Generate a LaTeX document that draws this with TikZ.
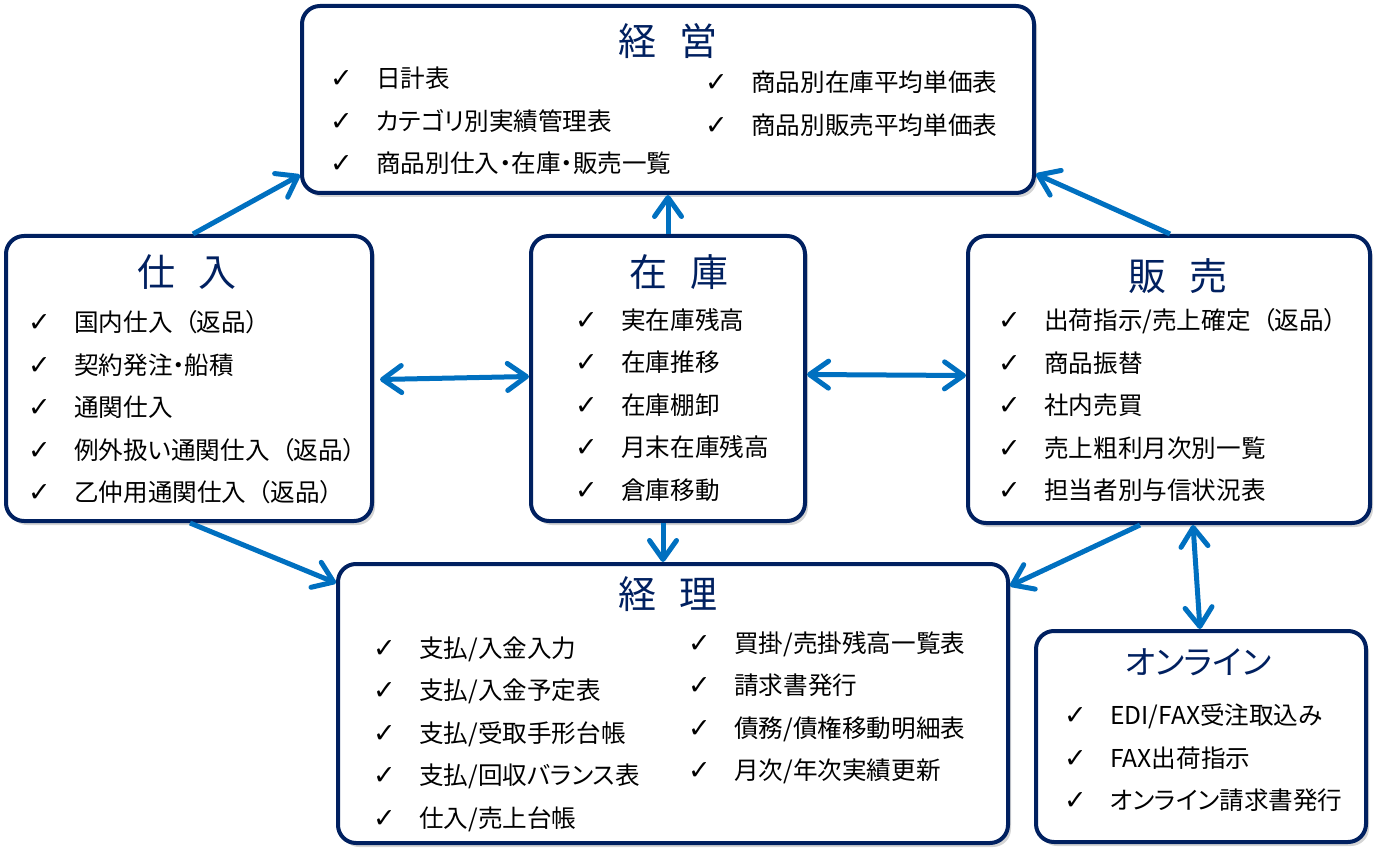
\documentclass[tikz,border=0pt]{standalone}
\usepackage{fontspec}
\setmainfont{Noto Sans CJK JP}[RawFeature=+palt]
\newfontfamily\symfont{DejaVu Sans}
\usetikzlibrary{arrows.meta,shadows,calc}
\definecolor{navy}{HTML}{002060}
\definecolor{arrowblue}{HTML}{0070C0}
\newcommand\ck{\makebox[46pt][l]{\symfont\fontsize{27}{27}\selectfont ✓}}
\newcommand\lp{\hspace{12pt}}
\begin{document}
\begin{tikzpicture}[x=1pt,y=-1pt,
  box/.style={draw=navy, line width=4pt, rounded corners=18pt, fill=white, inner sep=0pt,
    drop shadow={shadow xshift=3pt, shadow yshift=-4pt, opacity=.28, fill=black!60}},
  ttl/.style={inner sep=0pt, text=navy, font=\fontsize{38}{38}\selectfont},
  items/.style={inner sep=0pt, align=left, anchor=west, text=black, font=\fontsize{24.6}{42.5}\selectfont},
  barb/.tip={Straight Barb[round, length=19pt, width=27pt]},
  conn/.style={draw=arrowblue, line width=5pt, -barb},
  dconn/.style={draw=arrowblue, line width=5pt, barb-barb}]
\useasboundingbox (0,0) rectangle (1386,858);

% boxes
\node[box, minimum width=732pt, minimum height=187pt] (keiei) at (668,99.5) {};
\node[box, minimum width=366pt, minimum height=285pt] (shiire) at (189,378.5) {};
\node[box, minimum width=274pt, minimum height=285pt] (zaiko) at (668,378.5) {};
\node[box, minimum width=402pt, minimum height=287pt] (hanbai) at (1169,379.5) {};
\node[box, minimum width=670pt, minimum height=279pt] (keiri) at (673,703.5) {};
\node[box, minimum width=330pt, minimum height=211pt] (online) at (1201,736.5) {};

% titles
\node[ttl] (tkeiei) at (668,41) {経\hspace{24pt}営};
\node[ttl] (tshiire) at (187,272) {仕\hspace{24pt}入};
\node[ttl] (tzaiko) at (679,272) {在\hspace{24pt}庫};
\node[ttl] (thanbai) at (1178,276) {販\hspace{24pt}売};
\node[ttl] (tkeiri) at (668,594) {経\hspace{24pt}理};
\node[ttl, font=\fontsize{33}{33}\selectfont] (tonline) at (1198,662) {オンライン};

% items
\node[items] (ikeieiL) at (330,121) {\ck 日計表\\ \ck カテゴリ別実績管理表\\ \ck 商品別仕入・在庫・販売一覧};
\node[items] (ikeieiR) at (705,103.5) {\ck 商品別在庫平均単価表\\ \ck 商品別販売平均単価表};
\node[items] (ishiire) at (28,407.5) {\ck 国内仕入\lp（返品）\\ \ck 契約発注・船積\\ \ck 通関仕入\\ \ck 例外扱い通関仕入\lp（返品）\\ \ck 乙仲用通関仕入\lp（返品）};
\node[items] (izaiko) at (575,405) {\ck 実在庫残高\\ \ck 在庫推移\\ \ck 在庫棚卸\\ \ck 月末在庫残高\\ \ck 倉庫移動};
\node[items] (ihanbai) at (998,405) {\ck 出荷指示/売上確定\lp（返品）\\ \ck 商品振替\\ \ck 社内売買\\ \ck 売上粗利月次別一覧\\ \ck 担当者別与信状況表};
\node[items] (ikeiriL) at (373,734) {\ck 支払/入金入力\\ \ck 支払/入金予定表\\ \ck 支払/受取手形台帳\\ \ck 支払/回収バランス表\\ \ck 仕入/売上台帳};
\node[items] (ikeiriR) at (688,707.5) {\ck 買掛/売掛残高一覧表\\ \ck 請求書発行\\ \ck 債務/債権移動明細表\\ \ck 月次/年次実績更新};
\node[items] (ionline) at (1064,758) {\ck EDI/FAX受注取込み\\ \ck FAX出荷指示\\ \ck オンライン請求書発行};

% connectors
\draw[conn] ([xshift=4pt]shiire.north) -- ([yshift=20pt]keiei.south west);
\draw[conn] (zaiko.north) -- (keiei.south);
\draw[conn] ([xshift=1pt]hanbai.north) -- ([yshift=21pt]keiei.south east);
\draw[dconn] ([xshift=6pt,yshift=-1pt]shiire.east) -- ([yshift=2pt]zaiko.west);
\draw[dconn] ([yshift=4pt]zaiko.east) -- ([yshift=4pt]hanbai.west);
\draw[conn] ([xshift=-5pt]zaiko.south) -- ([xshift=-10pt]keiri.north);
\draw[conn] ([xshift=1pt]shiire.south) -- ([yshift=-21pt]keiri.north west);
\draw[conn] ([xshift=-29pt]hanbai.south) -- ([yshift=-24pt]keiri.north east);
\draw[dconn] ([xshift=24pt]hanbai.south) -- ([xshift=-1pt]online.north);
\end{tikzpicture}
\end{document}
